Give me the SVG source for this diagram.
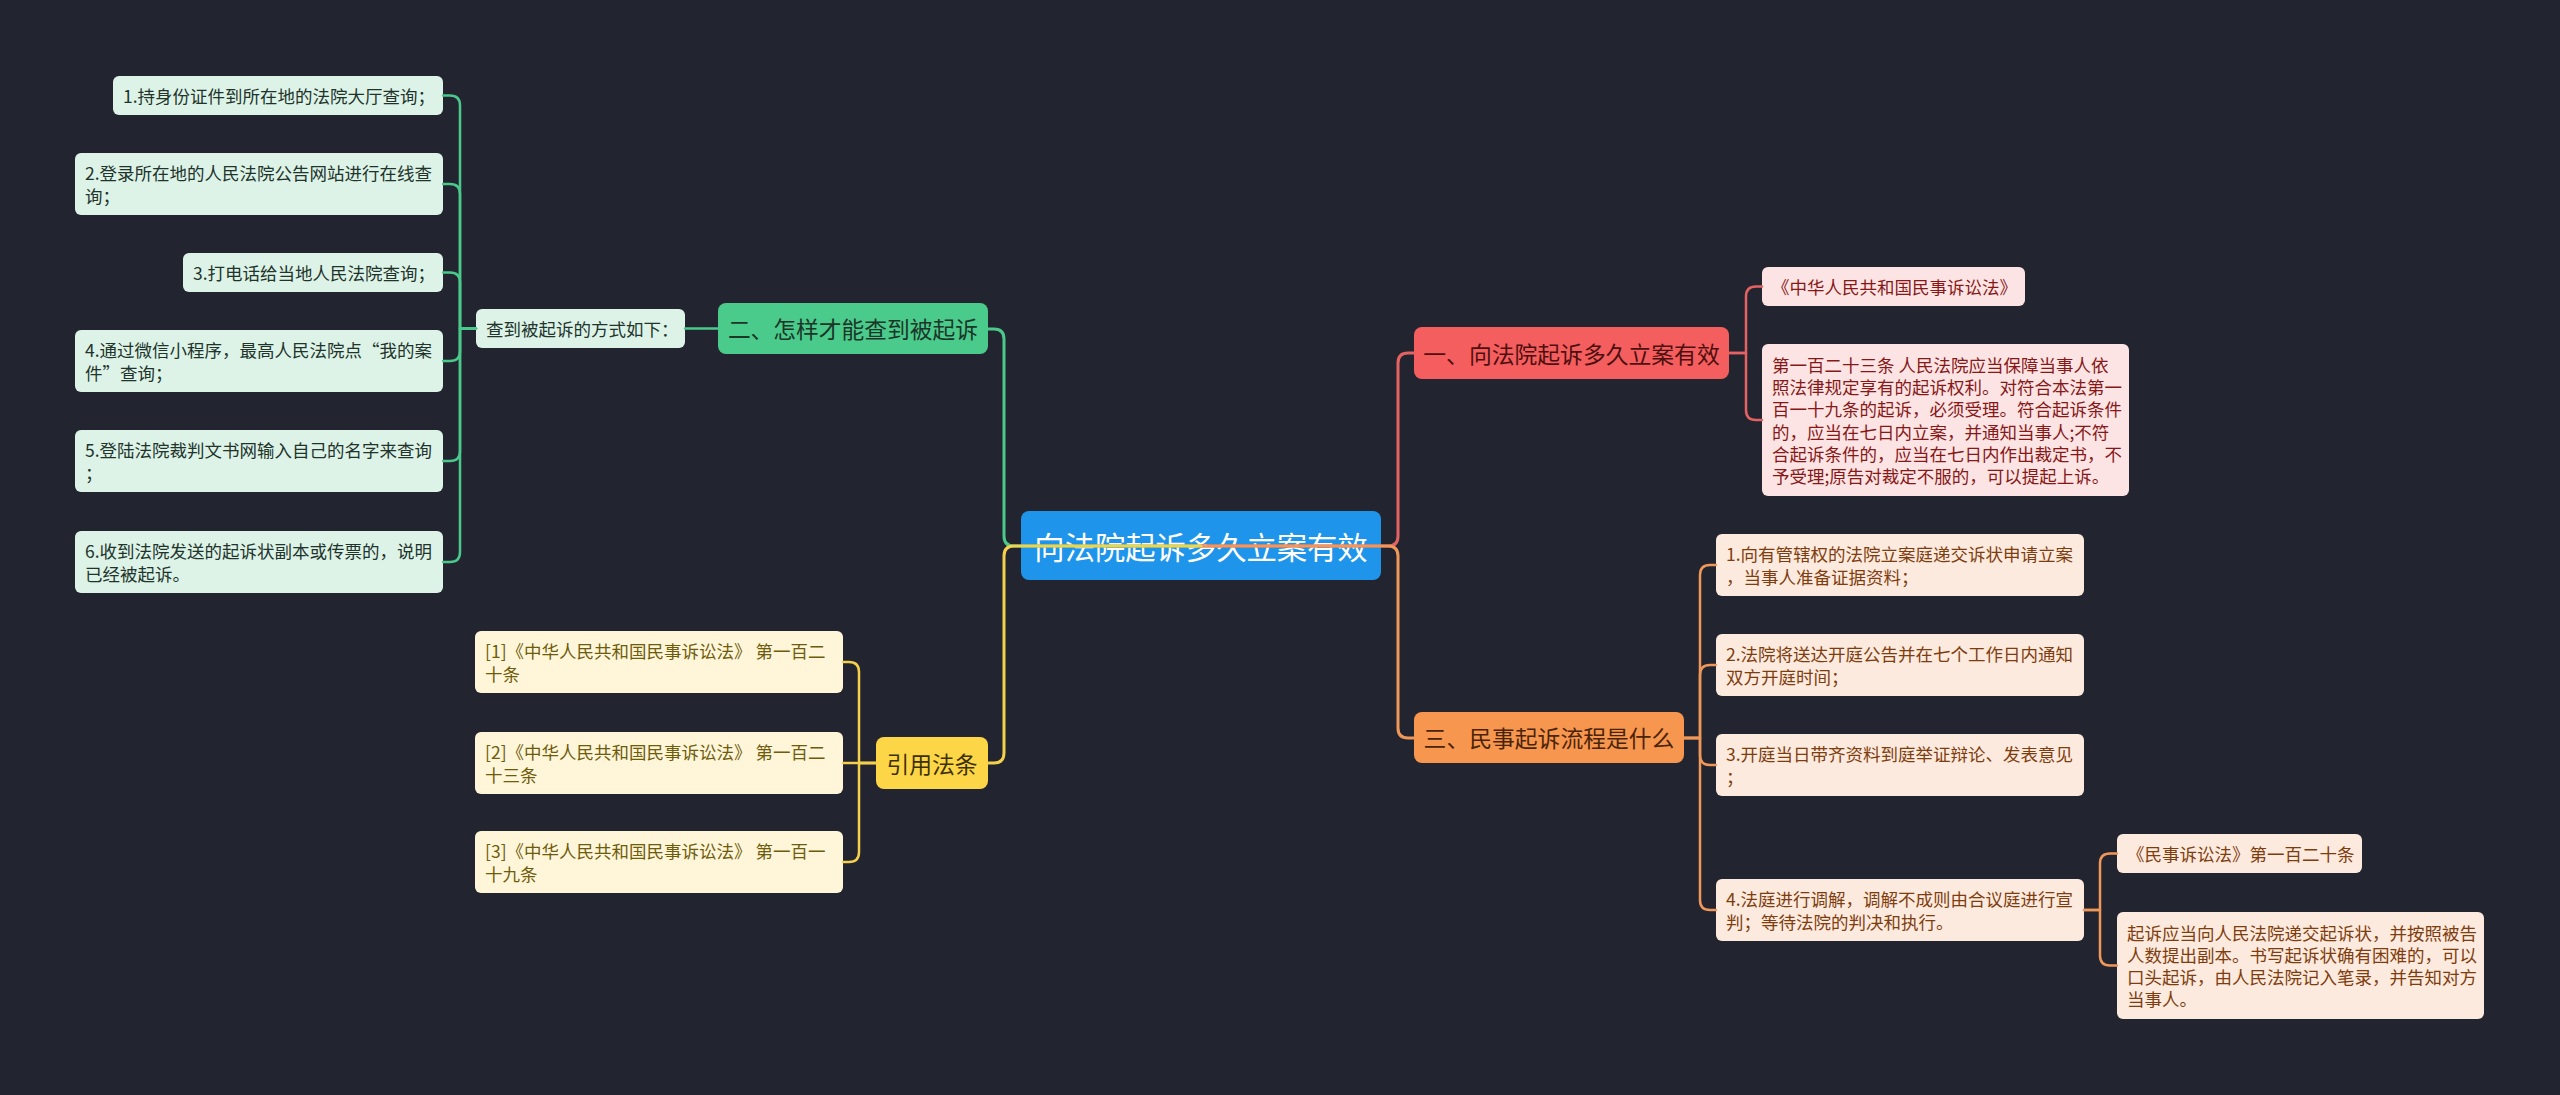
<svg xmlns="http://www.w3.org/2000/svg" width="2560" height="1095" viewBox="0 0 2560 1095">
<style>
text{font-family:"Noto Sans CJK SC","Noto Sans",sans-serif;dominant-baseline:central}
.leaf text{font-size:17.5px}
.g rect{fill:#ddf3e8}.g text{fill:#22332b}
.r rect{fill:#fde4e4}.r text{fill:#861818}
.o rect{fill:#fdeade}.o text{fill:#7d3d0f}
.y rect{fill:#fff6da}.y text{fill:#6e5c0c}
.br text{text-anchor:middle}
.c path{fill:none;stroke-linecap:round;stroke-linejoin:round}
.cg{stroke:#4bc98c}.cr{stroke:#e46262}.co{stroke:#f0975a}.cy{stroke:#f4d04c}
.main{stroke-width:3}.sub{stroke-width:2.5}
</style>
<rect width="2560" height="1095" fill="#22252f"/>

<g id="root" class="br"><rect x="1021" y="511" width="360" height="69" rx="8" fill="#1e95ea"/><text x="1201" y="545.5" font-size="30.3" fill="#ffffff">向法院起诉多久立案有效</text></g>

<g id="b-green" class="br"><rect x="718" y="303" width="270" height="51" rx="8" fill="#4acb8c"/><text x="853" y="328.5" font-size="22.75" fill="#1b3627">二、怎样才能查到被起诉</text></g>
<g id="b-yellow" class="br"><rect x="876" y="737" width="112" height="52" rx="8" fill="#fdd648"/><text x="932" y="763" font-size="22.8" fill="#3d3103">引用法条</text></g>
<g id="b-red" class="br"><rect x="1414" y="327" width="315" height="52" rx="8" fill="#f55e5e"/><text x="1571.5" y="353" font-size="22.8" fill="#4d0f0f">一、向法院起诉多久立案有效</text></g>
<g id="b-orange" class="br"><rect x="1414" y="712" width="270" height="51" rx="8" fill="#f7964f"/><text x="1549" y="737.5" font-size="22.8" fill="#4a2407">三、民事起诉流程是什么</text></g>

<g id="g-sub" class="leaf g"><rect x="476" y="309" width="209" height="39" rx="6"/><text x="486" y="328.5">查到被起诉的方式如下：</text></g>
<g id="g1" class="leaf g"><rect x="113" y="76" width="330" height="39" rx="6"/><text x="123" y="95.5">1.持身份证件到所在地的法院大厅查询；</text></g>
<g id="g2" class="leaf g"><rect x="75" y="153" width="368" height="62" rx="6"/><text x="85" y="172.85">2.登录所在地的人民法院公告网站进行在线查</text><text x="85" y="195.15">询；</text></g>
<g id="g3" class="leaf g"><rect x="183" y="253" width="260" height="39" rx="6"/><text x="193" y="272.5">3.打电话给当地人民法院查询；</text></g>
<g id="g4" class="leaf g"><rect x="75" y="330" width="368" height="62" rx="6"/><text x="85" y="349.85">4.通过微信小程序，最高人民法院点“我的案</text><text x="85" y="372.15">件”查询；</text></g>
<g id="g5" class="leaf g"><rect x="75" y="430" width="368" height="62" rx="6"/><text x="85" y="449.85">5.登陆法院裁判文书网输入自己的名字来查询</text><text x="85" y="472.15">；</text></g>
<g id="g6" class="leaf g"><rect x="75" y="531" width="368" height="62" rx="6"/><text x="85" y="550.85">6.收到法院发送的起诉状副本或传票的，说明</text><text x="85" y="573.15">已经被起诉。</text></g>

<g id="y1" class="leaf y"><rect x="475" y="631" width="368" height="62" rx="6"/><text x="485" y="650.85">[1]《中华人民共和国民事诉讼法》 第一百二</text><text x="485" y="673.15">十条</text></g>
<g id="y2" class="leaf y"><rect x="475" y="732" width="368" height="62" rx="6"/><text x="485" y="751.85">[2]《中华人民共和国民事诉讼法》 第一百二</text><text x="485" y="774.15">十三条</text></g>
<g id="y3" class="leaf y"><rect x="475" y="831" width="368" height="62" rx="6"/><text x="485" y="850.85">[3]《中华人民共和国民事诉讼法》 第一百一</text><text x="485" y="873.15">十九条</text></g>

<g id="r1" class="leaf r"><rect x="1762" y="267" width="263" height="39" rx="6"/><text x="1772" y="286.5">《中华人民共和国民事诉讼法》</text></g>
<g id="r2" class="leaf r"><rect x="1762" y="344" width="367" height="152" rx="6"/>
<text x="1772" y="364.25">第一百二十三条 人民法院应当保障当事人依</text>
<text x="1772" y="386.55">照法律规定享有的起诉权利。对符合本法第一</text>
<text x="1772" y="408.85">百一十九条的起诉，必须受理。符合起诉条件</text>
<text x="1772" y="431.15">的，应当在七日内立案，并通知当事人;不符</text>
<text x="1772" y="453.45">合起诉条件的，应当在七日内作出裁定书，不</text>
<text x="1772" y="475.75">予受理;原告对裁定不服的，可以提起上诉。</text></g>

<g id="o1" class="leaf o"><rect x="1716" y="534" width="368" height="62" rx="6"/><text x="1726" y="553.85">1.向有管辖权的法院立案庭递交诉状申请立案</text><text x="1726" y="576.15">，当事人准备证据资料；</text></g>
<g id="o2" class="leaf o"><rect x="1716" y="634" width="368" height="62" rx="6"/><text x="1726" y="653.85">2.法院将送达开庭公告并在七个工作日内通知</text><text x="1726" y="676.15">双方开庭时间；</text></g>
<g id="o3" class="leaf o"><rect x="1716" y="734" width="368" height="62" rx="6"/><text x="1726" y="753.85">3.开庭当日带齐资料到庭举证辩论、发表意见</text><text x="1726" y="776.15">；</text></g>
<g id="o4" class="leaf o"><rect x="1716" y="879" width="368" height="62" rx="6"/><text x="1726" y="898.85">4.法庭进行调解，调解不成则由合议庭进行宣</text><text x="1726" y="921.15">判；等待法院的判决和执行。</text></g>
<g id="o4a" class="leaf o"><rect x="2117" y="834" width="245" height="39" rx="6"/><text x="2127" y="853.5">《民事诉讼法》第一百二十条</text></g>
<g id="o4b" class="leaf o"><rect x="2117" y="912" width="367" height="107" rx="6"/>
<text x="2127" y="932.05">起诉应当向人民法院递交起诉状，并按照被告</text>
<text x="2127" y="954.35">人数提出副本。书写起诉状确有困难的，可以</text>
<text x="2127" y="976.65">口头起诉，由人民法院记入笔录，并告知对方</text>
<text x="2127" y="998.95">当事人。</text></g>

<g id="connectors" class="c">
<path class="cg main" d="M1201,546 H1014 Q1004,546 1004,536 V339 Q1004,329 994,329 H988"/>
<path class="cr main" d="M1201,546 H1388 Q1398,546 1398,536 V363 Q1398,353 1408,353 H1414"/>
<path class="co main" d="M1201,546 H1388 Q1398,546 1398,556 V728 Q1398,738 1408,738 H1414"/>
<path class="cy main" d="M1201,546 H1014 Q1004,546 1004,556 V753 Q1004,763 994,763 H988"/>
<path class="cg sub" d="M718,328.5 H685"/>
<path class="cg sub" d="M476,328.5 H460 V105.5 Q460,95.5 450,95.5 H443"/>
<path class="cg sub" d="M476,328.5 H460 V194 Q460,184 450,184 H443"/>
<path class="cg sub" d="M476,328.5 H460 V282.5 Q460,272.5 450,272.5 H443"/>
<path class="cg sub" d="M476,328.5 H460 V351 Q460,361 450,361 H443"/>
<path class="cg sub" d="M476,328.5 H460 V451 Q460,461 450,461 H443"/>
<path class="cg sub" d="M476,328.5 H460 V552 Q460,562 450,562 H443"/>
<path class="cy sub" d="M876,763 H859 V672 Q859,662 849,662 H843"/>
<path class="cy sub" d="M876,763 H843"/>
<path class="cy sub" d="M876,763 H859 V852 Q859,862 849,862 H843"/>
<path class="cr sub" d="M1729,353 H1746 V296.5 Q1746,286.5 1756,286.5 H1762"/>
<path class="cr sub" d="M1729,353 H1746 V410 Q1746,420 1756,420 H1762"/>
<path class="co sub" d="M1684,738 H1700 V575 Q1700,565 1710,565 H1716"/>
<path class="co sub" d="M1684,738 H1700 V675 Q1700,665 1710,665 H1716"/>
<path class="co sub" d="M1684,738 H1700 V755 Q1700,765 1710,765 H1716"/>
<path class="co sub" d="M1684,738 H1700 V900 Q1700,910 1710,910 H1716"/>
<path class="co sub" d="M2084,910 H2100 V863.5 Q2100,853.5 2110,853.5 H2117"/>
<path class="co sub" d="M2084,910 H2100 V955.5 Q2100,965.5 2110,965.5 H2117"/>
</g>
</svg>
